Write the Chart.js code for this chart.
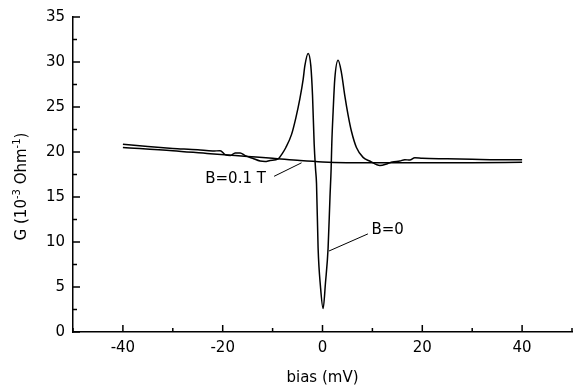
<!DOCTYPE html>
<html><head><meta charset="utf-8">
<script src="https://cdn.jsdelivr.net/npm/chart.js@4"></script>
<style>html,body{margin:0;padding:0;background:#fff}</style>
</head><body>
<canvas id="c" width="579" height="390"></canvas>
<script>
// ---- data ----
const biasB0 = [-40, -35, -30, -25, -22, -20.5, -19.5, -18.5, -17.5, -16.5, -15.5, -14, -12.5, -11.5, -10.5, -8.87, -8.1, -7.34, -6.2, -5.34, -4.54, -3.87, -3.54, -2.88, -2.34, -2.0, -1.67, -1.4, -1.2, -0.88, -0.4, 0.12, 0.6, 1.12, 1.5, 1.73, 1.86, 2.13, 2.46, 3.13, 3.8, 4.46, 5.13, 5.8, 6.8, 8.13, 9.46, 11.5, 13, 14, 15.5, 16.5, 17.5, 18.5, 20, 25, 30, 35, 40];
const gB0 = [20.85, 20.6, 20.4, 20.25, 20.1, 20.15, 19.7, 19.6, 19.9, 19.9, 19.6, 19.3, 19.0, 18.95, 19.06, 19.24, 19.8, 20.5, 21.96, 23.8, 25.9, 28.1, 29.57, 30.95, 29.57, 26.3, 20.9, 18.15, 16.5, 9.3, 5.0, 2.6, 5.5, 9.3, 15.0, 18.15, 20.9, 24.5, 28.1, 30.2, 28.8, 26.3, 24.1, 22.3, 20.5, 19.4, 19.0, 18.5, 18.7, 18.9, 19.0, 19.15, 19.1, 19.35, 19.3, 19.25, 19.2, 19.15, 19.15];
const biasB01 = [-40, -30, -22.5, -15, -10, -4.5, 0, 10, 20, 30, 40];
const gB01 = [20.5, 20.15, 19.8, 19.5, 19.3, 19.05, 18.9, 18.8, 18.8, 18.8, 18.85];

const xMajorTicks = [-40, -20, 0, 20, 40];
const xMinorTicks = [-50, -30, -10, 10, 30, 50];
const yMajorTicks = [0, 5, 10, 15, 20, 25, 30, 35];
const yMinorTicks = [2.5, 7.5, 12.5, 17.5, 22.5, 27.5, 32.5];

const xTitle = 'bias (mV)';
const yTitleParts = [['G (10', false], ['-3', true], [' Ohm', false], ['-1', true], [')', false]];

const annotText = ['B=0.1 T', 'B=0'];
const annotAt = [[-23.5, 17.0], [9.8, 11.3]];
const annotFrom = [[-9.7, 17.3], [9.1, 10.9]];
const annotTo = [[-4.2, 18.8], [1.3, 9.0]];

// ---- chart ----
const FONT = 'DejaVu Sans';
const toPts = (xs, ys) => xs.map((x, i) => ({x: x, y: ys[i]}));

const decor = {
  id: 'decor',
  afterDraw(chart) {
    const ctx = chart.ctx, xs = chart.scales.x, ys = chart.scales.y;
    const ax = xs.getPixelForValue(-50), ay = ys.getPixelForValue(0);
    ctx.save();
    ctx.strokeStyle = '#000';
    ctx.lineWidth = 1.5;
    ctx.beginPath();
    yMajorTicks.forEach(v => { const p = ys.getPixelForValue(v); ctx.moveTo(ax, p); ctx.lineTo(ax + 7, p); });
    yMinorTicks.forEach(v => { const p = ys.getPixelForValue(v); ctx.moveTo(ax, p); ctx.lineTo(ax + 4, p); });
    xMajorTicks.forEach(v => { const p = xs.getPixelForValue(v); ctx.moveTo(p, ay); ctx.lineTo(p, ay - 7); });
    xMinorTicks.forEach(v => { const p = xs.getPixelForValue(v); ctx.moveTo(p, ay); ctx.lineTo(p, ay - 4); });
    ctx.stroke();

    // annotations
    ctx.lineWidth = 1;
    ctx.fillStyle = '#000';
    ctx.font = '15px "' + FONT + '"';
    ctx.textBaseline = 'middle';
    ctx.textAlign = 'left';
    annotText.forEach((t, i) => {
      ctx.fillText(t, xs.getPixelForValue(annotAt[i][0]), ys.getPixelForValue(annotAt[i][1]));
      ctx.beginPath();
      ctx.moveTo(xs.getPixelForValue(annotFrom[i][0]), ys.getPixelForValue(annotFrom[i][1]));
      ctx.lineTo(xs.getPixelForValue(annotTo[i][0]), ys.getPixelForValue(annotTo[i][1]));
      ctx.stroke();
    });

    // y title with superscripts
    const big = '15px "' + FONT + '"', small = '10px "' + FONT + '"';
    let total = 0;
    yTitleParts.forEach(([t, sup]) => { ctx.font = sup ? small : big; total += ctx.measureText(t).width; });
    ctx.translate(22, (chart.chartArea.top + chart.chartArea.bottom) / 2 + 12);
    ctx.rotate(-Math.PI / 2);
    let cx = -total / 2;
    yTitleParts.forEach(([t, sup]) => {
      ctx.font = sup ? small : big;
      ctx.fillText(t, cx, sup ? -5 : 0);
      cx += ctx.measureText(t).width;
    });
    ctx.restore();
  }
};

new Chart(document.getElementById('c'), {
  type: 'scatter',
  data: {
    datasets: [
      {label: 'B=0', data: toPts(biasB0, gB0), showLine: true, pointRadius: 0, borderColor: '#000', borderWidth: 1.5, cubicInterpolationMode: 'monotone', fill: false},
      {label: 'B=0.1 T', data: toPts(biasB01, gB01), showLine: true, pointRadius: 0, borderColor: '#000', borderWidth: 1.5, cubicInterpolationMode: 'monotone', fill: false}
    ]
  },
  options: {
    responsive: false,
    animation: false,
    devicePixelRatio: 1,
    layout: {padding: {top: 10, right: 7, left: 0, bottom: 0}},
    plugins: {legend: {display: false}, tooltip: {enabled: false}},
    scales: {
      x: {
        type: 'linear', min: -50, max: 50,
        afterBuildTicks: s => { s.ticks = xMajorTicks.map(v => ({value: v})); },
        afterFit: s => { s.height = 58; },
        grid: {display: false, drawTicks: false, tickLength: 0},
        border: {display: true, color: '#000', width: 1.5},
        ticks: {color: '#000', font: {family: FONT, size: 15}, padding: 7, maxRotation: 0, autoSkip: false},
        title: {display: true, text: xTitle, color: '#000', font: {family: FONT, size: 15}, padding: {top: 0, bottom: 3}}
      },
      y: {
        type: 'linear', min: 0, max: 35,
        afterBuildTicks: s => { s.ticks = yMajorTicks.map(v => ({value: v})); },
        afterFit: s => { s.width = 73; },
        grid: {display: false, drawTicks: false, tickLength: 0},
        border: {display: true, color: '#000', width: 1.5},
        ticks: {color: '#000', font: {family: FONT, size: 15}, padding: 8, autoSkip: false}
      }
    }
  },
  plugins: [decor]
});
</script>
</body></html>
